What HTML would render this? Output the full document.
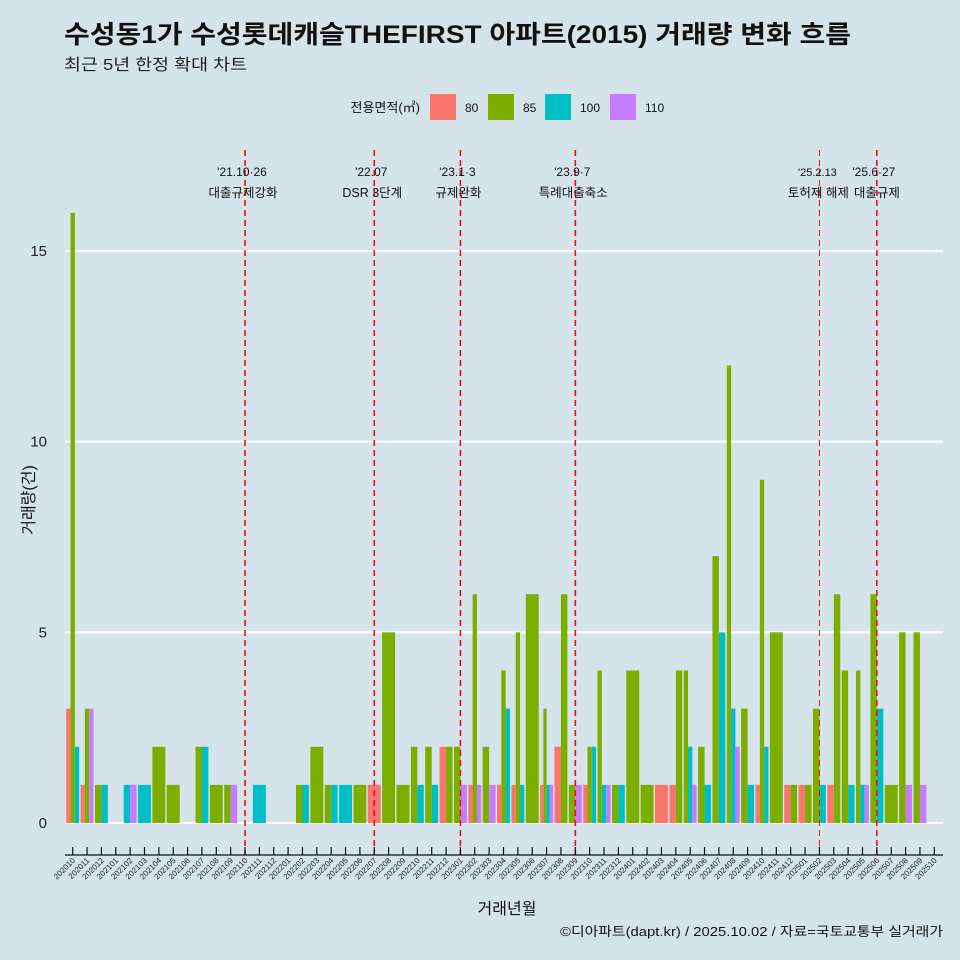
<!DOCTYPE html>
<html><head><meta charset="utf-8"><style>
body{margin:0;background:#d5e3ea;}
svg{display:block;font-family:"Liberation Sans","Noto Sans CJK KR",sans-serif;}
</style></head><body>
<svg id="c" width="960" height="960" viewBox="0 0 960 960">
<rect width="960" height="960" fill="#d5e3ea"/>
<text x="64" y="43" font-size="25" font-weight="bold" fill="#111" textLength="787" lengthAdjust="spacingAndGlyphs">수성동1가 수성롯데캐슬THEFIRST 아파트(2015) 거래량 변화 흐름</text>
<text x="64" y="70" font-size="16" fill="#222" textLength="183" lengthAdjust="spacingAndGlyphs">최근 5년 한정 확대 차트</text>
<g>
<text x="420" y="112" font-size="13" text-anchor="end" fill="#111">전용면적(㎡)</text>
<rect x="430" y="94" width="26" height="26" fill="#F8766D"/>
<text x="465" y="112" font-size="12" fill="#111">80</text>
<rect x="488" y="94" width="26" height="26" fill="#7CAE00"/>
<text x="523" y="112" font-size="12" fill="#111">85</text>
<rect x="545" y="94" width="26" height="26" fill="#00BFC4"/>
<text x="580" y="112" font-size="12" fill="#111">100</text>
<rect x="610" y="94" width="26" height="26" fill="#C77CFF"/>
<text x="645" y="112" font-size="12" fill="#111">110</text>
</g>
<g id="grid"></g><g id="bars"></g><g id="events"></g><g id="axes"></g>
<text transform="translate(34,500) rotate(-90)" font-size="16" text-anchor="middle" fill="#111">거래량(건)</text>
<text x="507" y="914" font-size="16" text-anchor="middle" fill="#111">거래년월</text>
<text x="560" y="936" font-size="13" fill="#111" textLength="383" lengthAdjust="spacingAndGlyphs">©디아파트(dapt.kr) / 2025.10.02 / 자료=국토교통부 실거래가</text>
</svg>
<script>
const months=[];for(let y=2020,m=10;!(y===2025&&m===11);){months.push(''+y+(m<10?'0':'')+m);m++;if(m>12){m=1;y++;}}
const groups=['80','85','100','110'];
const colors=['#F8766D','#7CAE00','#00BFC4','#C77CFF'];
const v80=[3,1,0,0,0,0,0,0,0,0,0,0,0,0,0,0,0,0,0,0,0,1,0,0,0,0,2,0,1,0,1,1,0,1,2,0,1,0,0,0,0,1,1,0,0,0,0,0,1,0,1,1,0,1,0,0,0,0,0,0,0];
const v85=[16,3,1,0,0,0,2,1,0,2,1,1,0,0,0,0,1,2,1,0,1,0,5,1,2,2,2,2,6,2,4,5,6,3,6,1,2,4,1,4,1,0,4,4,2,7,12,3,9,5,1,1,3,6,4,4,6,1,5,5,0];
const v100=[2,0,1,0,1,1,0,0,0,2,0,0,0,1,0,0,1,0,1,1,0,0,0,0,1,1,0,0,0,0,3,1,0,1,0,0,2,1,1,0,0,0,0,2,1,5,3,1,2,0,0,0,1,0,1,1,3,0,0,0,0];
const v110=[0,3,0,0,1,0,0,0,0,0,0,1,0,0,0,0,0,0,0,0,0,0,0,0,0,0,0,1,1,1,0,0,0,1,0,1,0,1,0,0,0,0,0,1,0,0,2,0,0,0,0,0,0,0,0,1,0,0,1,1,0];
const series=[v80,v85,v100,v110];
const yTicks=[0,5,10,15];
const events=['202110','202207','202301','202309','202502','202506'];
const eventDate=["'21.10·26","'22.07","'23.1·3","'23.9·7","'25.2.13","'25.6·27"];
const eventText=['대출규제강화','DSR 3단계','규제완화','특례대출축소','토허제 해제','대출규제'];
const NS='http://www.w3.org/2000/svg';
const X0=72.7,STEP=14.36,Y0=823,UNIT=38.13,L=65,R=943;
const xs=i=>X0+i*STEP, ys=v=>Y0-v*UNIT;
function el(t,a,p){const e=document.createElementNS(NS,t);for(const k in a)e.setAttribute(k,a[k]);p.appendChild(e);return e;}
const grid=document.getElementById('grid'),bars=document.getElementById('bars'),ev=document.getElementById('events'),ax=document.getElementById('axes');
yTicks.forEach(t=>{
 const l=el('line',{x1:L,x2:R,y1:ys(t),y2:ys(t),stroke:'#fff','stroke-width':2.2},grid);
 
 
 const tx=el('text',{x:47,y:ys(t)+5,'font-size':15,'text-anchor':'end',fill:'#222'},ax);tx.textContent=t;
 
 
});
months.forEach((m,i)=>{
 const present=[];series.forEach((s,g)=>{if(s[i]>0)present.push(g);});
 const w=STEP*0.9/Math.max(present.length,1);const left=xs(i)-STEP*0.45;
 present.forEach((g,k)=>{
  const v=series[g][i];
  const r=el('rect',{x:left+k*w,y:ys(v),width:w,height:v*UNIT,fill:colors[g]},bars);
  
  
 });
 const tk=el('line',{x1:xs(i),x2:xs(i),y1:847,y2:855,stroke:'#111','stroke-width':1.2},ax);
 
 
 const lb=el('text',{transform:'translate('+(xs(i)+3)+',861) rotate(-45)','font-size':8,'text-anchor':'end',fill:'#222'},ax);lb.textContent=m;
 
 
});
const axl=el('line',{x1:L,x2:R,y1:855,y2:855,stroke:'#111','stroke-width':1.3},ax);


events.forEach((e,k)=>{
 const x=xs(months.indexOf(e));
 const thin=e==='202502';
 const l=el('line',{x1:x,x2:x,y1:150,y2:855,stroke:'#ee1111','stroke-width':thin?1:1.6,'stroke-dasharray':'6,4'},ev);
 
 
 const d=el('text',{x:x+(thin?-2:-3),y:176,'font-size':thin?11:12,'text-anchor':'middle',fill:'#111'},ev);d.textContent=eventDate[k];
 
 
 const t=el('text',{x:x+(k===4?-1:(k===5?0:-2)),y:197,'font-size':12.5,'text-anchor':'middle',fill:'#111'},ev);t.textContent=eventText[k];
 
 
});
</script>
</body></html>
